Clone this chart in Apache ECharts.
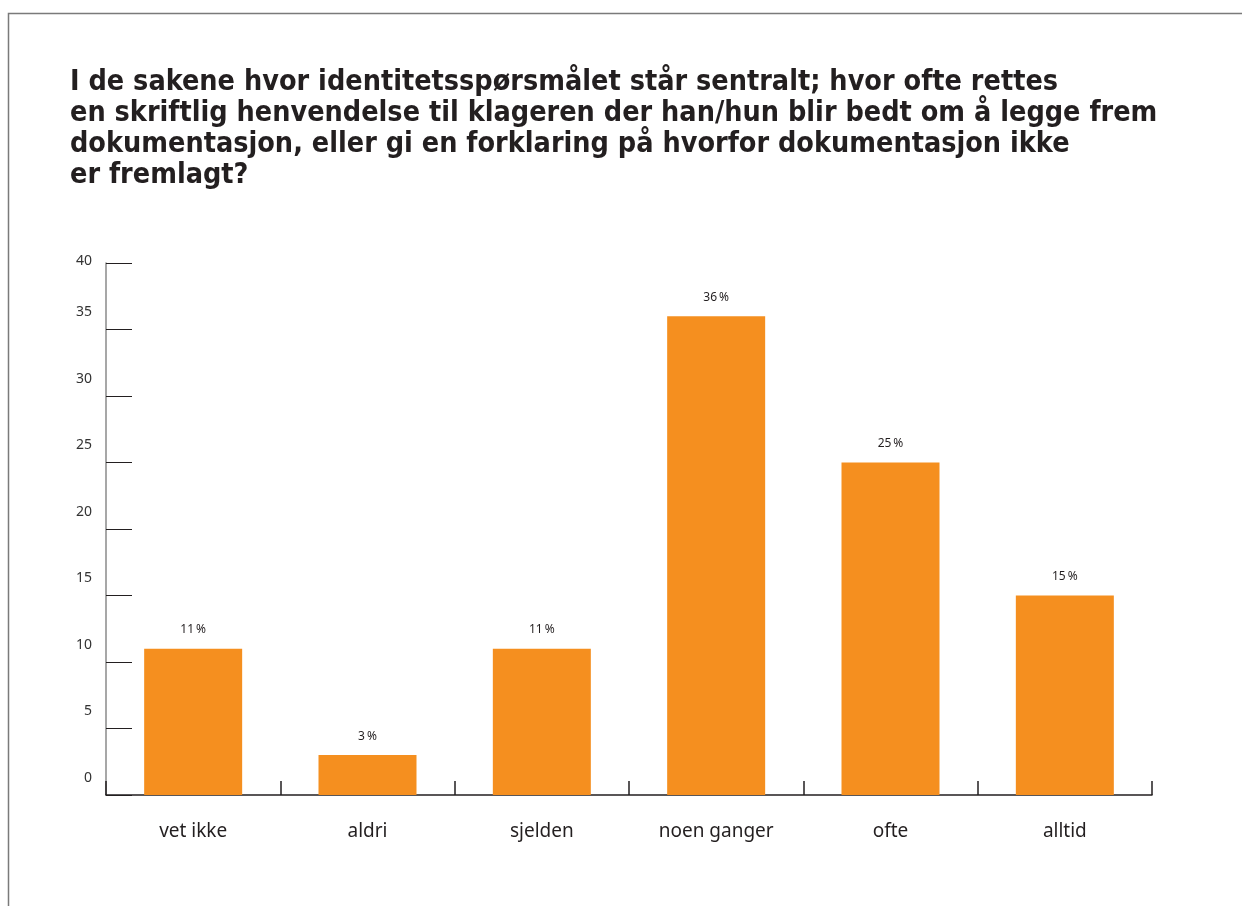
<!DOCTYPE html>
<html>
<head>
<meta charset="utf-8">
<script src="https://cdn.jsdelivr.net/npm/echarts@6/dist/echarts.min.js"></script>
<style>
	html, body { margin: 0; padding: 0; background: #fff; }
	#chart { width: 1242px; height: 906px; }
</style>
</head>
<body>
<div id="chart"></div>
<script>
// svar-kategorier og andeler (%)
var categories = ['vet ikke', 'aldri', 'sjelden', 'noen ganger', 'ofte', 'alltid']
var shares = [11, 3, 11, 36, 25, 15]
var yTicks = [0, 5, 10, 15, 20, 25, 30, 35, 40]

var titleText = 'I de sakene hvor identitetsspørsmålet står sentralt; hvor ofte rettes\n' +
	'en skriftlig henvendelse til klageren der han/hun blir bedt om å legge frem\n' +
	'dokumentasjon, eller gi en forklaring på hvorfor dokumentasjon ikke\n' +
	'er fremlagt?'

var chart = echarts.init(document.getElementById('chart'))

var option = {
	backgroundColor: '#fff',
	animation: false,
	graphic: [
		{
			// ramme rundt figuren
			type: 'rect',
			shape: { x: 8.5, y: 13.5, width: 1400, height: 1000 },
			style: { fill: 'none', stroke: '#7a7a7a', lineWidth: 1.5 }
		}
	],
	title: {
		text: titleText,
		left: 65,
		top: 62,
		textStyle: {
			fontFamily: '"DejaVu Sans Condensed", "Noto Sans", sans-serif',
			fontWeight: 'bold',
			fontSize: 28.5,
			lineHeight: 31,
			color: '#231f20'
		}
	},
	grid: {
		left: 106,
		right: 90,
		top: 263,
		bottom: 111,
		containLabel: false
	},
	xAxis: {
		type: 'category',
		data: categories,
		axisLine: { show: true, lineStyle: { color: '#231f20', width: 1.5 } },
		axisTick: { show: true, inside: true, length: 14, interval: 0, lineStyle: { color: '#231f20', width: 1.5 } },
		axisLabel: {
			margin: 27,
			fontFamily: 'Noto Sans',
			fontSize: 19,
			color: '#231f20'
		}
	},
	yAxis: {
		type: 'value',
		min: yTicks[0],
		max: yTicks[yTicks.length - 1],
		interval: 5,
		splitLine: { show: false },
		axisLine: { show: true, lineStyle: { color: '#8a8a8a', width: 1.5 } },
		axisTick: { show: true, inside: true, length: 26, lineStyle: { color: '#231f20', width: 1 } },
		axisLabel: {
			margin: 14,
			fontFamily: 'Noto Sans',
			fontSize: 14,
			color: '#333',
			formatter: function (v) {
				return v === 40 ? '{top|' + v + '}' : '{n|' + v + '}'
			},
			rich: {
				top: { fontFamily: 'Noto Sans', fontSize: 14, color: '#333', padding: [0, 0, 4, 0] },
				n: { fontFamily: 'Noto Sans', fontSize: 14, color: '#333', padding: [0, 0, 34, 0] }
			}
		}
	},
	series: [
		{
			type: 'bar',
			data: shares,
			barWidth: 98,
			itemStyle: { color: '#f58f1f' },
			label: {
				show: true,
				position: 'top',
				distance: 13,
				formatter: '{c}\u2009%',
				fontFamily: 'Noto Sans',
				fontSize: 12,
				color: '#231f20'
			}
		}
	]
}

chart.setOption(option)
</script>
</body>
</html>
